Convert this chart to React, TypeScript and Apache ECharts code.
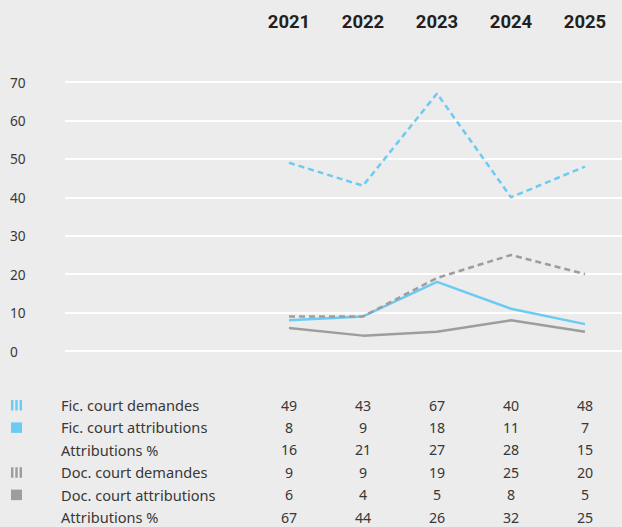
import React, { useEffect, useRef } from "react";
import * as echarts from "echarts";

const years = ["2021", "2022", "2023", "2024", "2025"];
const ficDemandes = [49, 43, 67, 40, 48];
const ficAttributions = [8, 9, 18, 11, 7];
const ficPct = [16, 21, 27, 28, 15];
const docDemandes = [9, 9, 19, 25, 20];
const docAttributions = [6, 4, 5, 8, 5];
const docPct = [67, 44, 26, 32, 25];
const rowLabels = [
  "Fic. court demandes",
  "Fic. court attributions",
  "Attributions %",
  "Doc. court demandes",
  "Doc. court attributions",
  "Attributions %",
];
const rowIcons = ["stripe-blue", "square-blue", "", "stripe-gray", "square-gray", ""];
const yMin = 0;
const yMax = 70;
const yInterval = 10;

const BLUE = "#6ccbf2";
const GRAY = "#9d9d9d";
const TEXT = "#3a3735";
const FONT = "'Noto Sans'";

export default function App() {
  const ref = useRef<HTMLDivElement>(null);
  useEffect(() => {
    document.body.style.margin = "0";
    const chart = echarts.init(ref.current!, null, { renderer: "svg" });
    const gridTop = 82;
    const gridHeight = 269;
    chart.setOption({
      animation: false,
      backgroundColor: "#ececec",
      textStyle: { fontFamily: FONT },
      grid: [
        { left: 65, right: 0, top: gridTop, height: gridHeight },
        { left: 252, width: 380, top: gridTop, height: gridHeight },
      ],
      xAxis: [
        { gridIndex: 0, type: "value", show: false, min: 0, max: 1 },
        {
          gridIndex: 1,
          type: "category",
          data: years,
          position: "top",
          boundaryGap: true,
          axisLine: { show: false },
          axisTick: { show: false },
          axisLabel: {
            margin: 60,
            verticalAlign: "middle",
            color: "#231f1c",
            fontWeight: "bold",
            fontSize: 18.5,
            fontFamily: "Roboto",
          },
        },
      ],
      yAxis: [
        {
          gridIndex: 0,
          type: "value",
          min: yMin,
          max: yMax,
          interval: yInterval,
          axisLine: { show: false },
          axisTick: { show: false },
          axisLabel: {
            align: "left",
            margin: 55,
            color: TEXT,
            fontSize: 13.7,
            fontFamily: FONT,
          },
          splitLine: { lineStyle: { color: "#ffffff", width: 2 } },
        },
        {
          gridIndex: 1,
          type: "value",
          min: yMin,
          max: yMax,
          interval: yInterval,
          show: false,
          splitLine: { show: false },
        },
      ],
      series: [
        {
          type: "line",
          xAxisIndex: 1,
          yAxisIndex: 1,
          data: docAttributions,
          symbol: "none",
          lineStyle: { color: GRAY, width: 2.5 },
        },
        {
          type: "line",
          xAxisIndex: 1,
          yAxisIndex: 1,
          data: ficAttributions,
          symbol: "none",
          lineStyle: { color: BLUE, width: 2.5 },
        },
        {
          type: "line",
          xAxisIndex: 1,
          yAxisIndex: 1,
          data: docDemandes,
          symbol: "none",
          lineStyle: { color: GRAY, width: 2.5, type: [6, 4] },
        },
        {
          type: "line",
          xAxisIndex: 1,
          yAxisIndex: 1,
          data: ficDemandes,
          symbol: "none",
          lineStyle: { color: BLUE, width: 2.5, type: [6, 4] },
        },
      ],
    });

    const rows = [ficDemandes, ficAttributions, ficPct, docDemandes, docAttributions, docPct];
    const rowY = (i: number) => 405 + i * 22.4;
    const elements: any[] = [];
    rows.forEach((vals, r) => {
      const y = rowY(r);
      elements.push({
        type: "text",
        x: 61,
        y,
        style: {
          text: rowLabels[r],
          fill: TEXT,
          font: `14.6px ${FONT}`,
          lineHeight: 12,
          textAlign: "left",
          textVerticalAlign: "middle",
        },
      });
      const icon = rowIcons[r];
      if (icon) {
        const color = icon.endsWith("blue") ? BLUE : GRAY;
        if (icon.startsWith("stripe")) {
          [0, 1, 2].forEach((k) => {
            elements.push({
              type: "rect",
              shape: { x: 11 + k * 4.3, y: y - 5, width: 2.4, height: 10.5 },
              style: { fill: color },
            });
          });
        } else {
          elements.push({
            type: "rect",
            shape: { x: 11, y: y - 5, width: 11, height: 10.5 },
            style: { fill: color },
          });
        }
      }
      vals.forEach((v, c) => {
        const px = chart.convertToPixel({ xAxisIndex: 1 }, c) as number;
        elements.push({
          type: "text",
          x: px,
          y,
          style: {
            text: String(v),
            fill: TEXT,
            font: `14.2px ${FONT}`,
            lineHeight: 12,
            textAlign: "center",
            textVerticalAlign: "middle",
          },
        });
      });
    });
    chart.setOption({ graphic: { elements } });
    return () => chart.dispose();
  }, []);
  return <div ref={ref} style={{ width: 622, height: 527, background: "#ececec" }} />;
}
